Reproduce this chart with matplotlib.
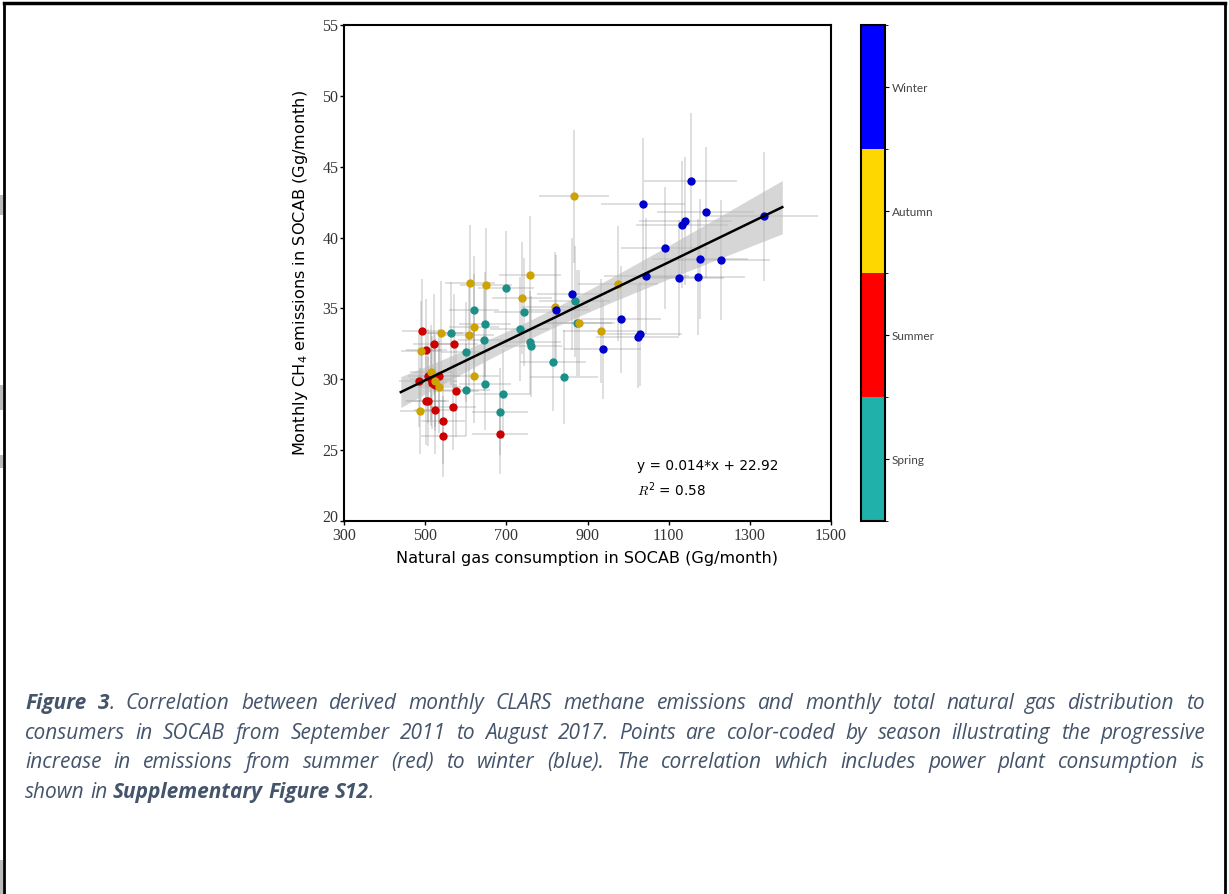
import numpy as np
import matplotlib
matplotlib.use("Agg")
import matplotlib.pyplot as plt
import matplotlib.transforms as mtransforms
from matplotlib.colors import ListedColormap, BoundaryNorm
from matplotlib.lines import Line2D
from matplotlib.patches import Rectangle

# data: natural gas (Gg/month), CH4 emissions (Gg/month)
winter_x = [1154, 1037, 1191, 1141, 1134, 1334, 1091, 1177, 1228, 1045, 1125, 1172,
            861, 823, 982, 1029, 1024, 937]
winter_y = [43.97, 42.36, 41.77, 41.16, 40.92, 41.49, 39.27, 38.49, 38.42, 37.26, 37.14, 37.2,
            36.03, 34.9, 34.23, 33.19, 33.0, 32.13]
autumn_x = [867, 759, 610, 650, 738, 975, 820, 620, 540, 608, 933, 880,
            489, 620, 514, 525, 535, 487]
autumn_y = [42.9, 37.38, 36.81, 36.65, 35.75, 36.74, 35.1, 33.69, 33.26, 33.15, 33.4, 34.0,
            32.03, 30.24, 30.5, 29.9, 29.48, 27.75]
spring_x = [699, 620, 744, 868, 874, 647, 563, 733, 646, 758, 762, 600,
            814, 842, 647, 600, 692, 684]
spring_y = [36.43, 34.87, 34.73, 35.5, 34.0, 33.87, 33.24, 33.55, 32.74, 32.64, 32.34, 31.94,
            31.19, 30.15, 29.68, 29.25, 28.97, 27.72]
summer_x = [493, 521, 572, 503, 484, 508, 533, 518, 525, 576, 501, 507,
            525, 568, 544, 545, 685, 515]
summer_y = [33.4, 32.48, 32.48, 32.1, 29.9, 30.24, 30.2, 29.77, 29.6, 29.15, 28.5, 28.45,
            27.8, 28.07, 27.03, 25.97, 26.16, 30.0]

seasons = ["Spring", "Summer", "Autumn", "Winter"]
cbar_colors = ["#20b2aa", "#ff0000", "#ffd700", "#0000ff"]
point_colors = ["#1a9089", "#cc0000", "#cca300", "#0000cc"]
rel_err_x = 0.10   # approx. relative uncertainty of the bars
rel_err_y = 0.11

eq_text = "y = 0.014*x + 22.92"
r2_text = "$\\mathit{R}^2$ = 0.58"

caption_lines = [
    [[("Figure", True)], [("3", True), (".", False)], "Correlation", "between", "derived", "monthly", "CLARS",
     "methane", "emissions", "and", "monthly", "total", "natural", "gas", "distribution", "to"],
    ["consumers", "in", "SOCAB", "from", "September", "2011", "to", "August", "2017.", "Points", "are",
     "color-coded", "by", "season", "illustrating", "the", "progressive"],
    ["increase", "in", "emissions", "from", "summer", "(red)", "to", "winter", "(blue).", "The", "correlation",
     "which", "includes", "power", "plant", "consumption", "is"],
    ["shown", "in", [("Supplementary", True)], [("Figure", True)], [("S12", True), (".", False)]],
]

plt.rcParams["mathtext.fontset"] = "cm"
plt.rcParams["mathtext.default"] = "regular"

W, H = 1229, 894
fig = plt.figure(figsize=(W / 100, H / 100), dpi=100)

ax = fig.add_axes([344 / W, 1 - 521 / H, 487 / W, 496 / H])
ax.set_xlim(300, 1500)
ax.set_ylim(20, 55)

xs = [spring_x, summer_x, autumn_x, winter_x]
ys = [spring_y, summer_y, autumn_y, winter_y]
for sx, sy, c in zip(xs, ys, point_colors):
    sx = np.array(sx, float)
    sy = np.array(sy, float)
    ax.errorbar(sx, sy, xerr=rel_err_x * sx, yerr=rel_err_y * sy, fmt="none",
                ecolor="gray", alpha=0.3, elinewidth=1.2, zorder=1)
for sx, sy, c in zip(xs, ys, point_colors):
    ax.scatter(sx, sy, s=36, color=c, zorder=4, linewidths=0)

# regression line with 95% band
allx = np.concatenate([np.array(v, float) for v in xs])
ally = np.concatenate([np.array(v, float) for v in ys])
slope, icpt = np.polyfit(allx, ally, 1)
xl = np.linspace(440, 1380, 200)
yl = slope * xl + icpt
n = len(allx)
resid = ally - (slope * allx + icpt)
s = np.sqrt(np.sum(resid ** 2) / (n - 2))
se = s * np.sqrt(1 / n + (xl - allx.mean()) ** 2 / np.sum((allx - allx.mean()) ** 2))
ax.fill_between(xl, yl - 1.99 * se, yl + 1.99 * se, color="#bbbbbb", alpha=0.6, lw=0, zorder=2)
ax.plot(xl, yl, color="black", lw=1.8, zorder=5)

ax.text(1022, 23.9, eq_text, fontsize=9.8, family="DejaVu Sans", va="center", zorder=6)
ax.text(1022, 22.2, r2_text, fontsize=9.8, family="DejaVu Sans", va="center", zorder=6)

ax.set_xticks([300, 500, 700, 900, 1100, 1300, 1500])
ax.set_yticks([20, 25, 30, 35, 40, 45, 50, 55])
for lab in ax.get_xticklabels() + ax.get_yticklabels():
    lab.set_family("Liberation Serif")
    lab.set_fontsize(11.5)
    lab.set_color("#333333")
ax.tick_params(length=3, width=1, pad=1)
ax.tick_params(axis="x", pad=2)
# the "20" label sits a little higher, as in the original
lab20 = ax.get_yticklabels()[0]
lab20.set_transform(lab20.get_transform() + mtransforms.ScaledTranslation(0, 5 / 100, fig.dpi_scale_trans))
for sp in ax.spines.values():
    sp.set_linewidth(1.5)
ax.set_xlabel("Natural gas consumption in SOCAB (Gg/month)", fontsize=11.6, family="DejaVu Sans", labelpad=5)
ax.set_ylabel("Monthly CH$_4$ emissions in SOCAB (Gg/month)", fontsize=11.6, family="DejaVu Sans", labelpad=9)

# season colour bar
cax = fig.add_axes([861 / W, 1 - 521 / H, 24 / W, 496 / H])
cmap = ListedColormap(cbar_colors)
norm = BoundaryNorm([0, 1, 2, 3, 4], cmap.N)
cb = fig.colorbar(plt.cm.ScalarMappable(norm=norm, cmap=cmap), cax=cax, ticks=[0.5, 1.5, 2.5, 3.5])
cb.ax.set_yticklabels(seasons)
cb.outline.set_linewidth(1.5)
cb.ax.tick_params(length=3, width=0.8, pad=2, labelsize=8.5, labelcolor="#444444")
for lab in cb.ax.get_yticklabels():
    lab.set_family("Lato")

# page border and edge artefacts
fig.add_artist(Line2D([4 / W, 1225 / W], [1 - 3 / H, 1 - 3 / H], color="black", lw=2.5))
fig.add_artist(Line2D([4 / W, 4 / W], [0, 1 - 3 / H], color="black", lw=2))
fig.add_artist(Line2D([1225 / W, 1225 / W], [0, 1 - 3 / H], color="black", lw=2))
for y0, y1 in [(195, 215), (385, 410), (455, 468), (860, 894)]:
    fig.add_artist(Rectangle((0, 1 - y1 / H), 3 / W, (y1 - y0) / H, color="#bbbbbb", lw=0))

# justified caption
cap_color = "#44546a"
cap_size = 15
renderer = fig.canvas.get_renderer()
left, right = 25, 1205
line_y = [709, 739, 768, 798]   # baselines


def seg_text(x, y, txt, bold):
    return fig.text(x / W, 1 - y / H, txt, fontsize=cap_size, color=cap_color, style="italic",
                    weight="bold" if bold else "normal", family="Open Sans", va="baseline", ha="left")


space_w = seg_text(0, 0, "a a", False)
w2 = space_w.get_window_extent(renderer).width
space_w.set_text("aa")
space_w = w2 - space_w.get_window_extent(renderer).width
fig.texts.pop()

for li, words in enumerate(caption_lines):
    words = [[(w, False)] if isinstance(w, str) else w for w in words]
    widths = []
    arts = []
    for w in words:
        segs = []
        tw = 0
        for txt, b in w:
            t = seg_text(0, line_y[li], txt, b)
            ww = t.get_window_extent(renderer).width
            segs.append((t, ww))
            tw += ww
        arts.append(segs)
        widths.append(tw)
    if li < len(caption_lines) - 1:
        gap = (right - left - sum(widths)) / (len(words) - 1)
    else:
        gap = space_w
    x = left
    for segs, tw in zip(arts, widths):
        xx = x
        for t, ww in segs:
            t.set_x(xx / W)
            xx += ww
        x += tw + gap

fig.savefig("out.png", dpi=100)
